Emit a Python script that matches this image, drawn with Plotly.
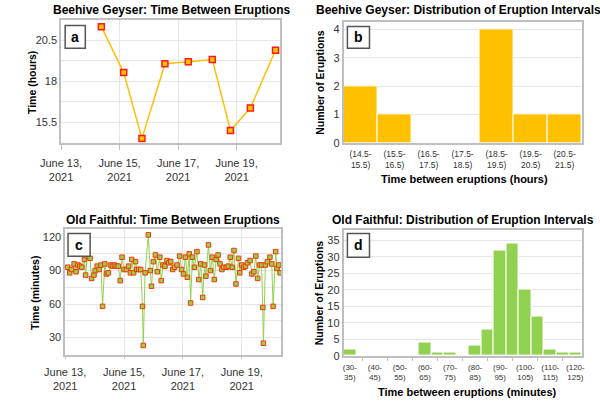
import plotly.graph_objects as go
import pandas as pd

# ---------------- data ----------------
bh_times = ["2021-06-14 09:03", "2021-06-15 03:24", "2021-06-15 18:22", "2021-06-16 13:12",
            "2021-06-17 08:24", "2021-06-18 04:05", "2021-06-18 18:58", "2021-06-19 11:17",
            "2021-06-20 07:55"]
bh_interval_hours = [21.32, 18.52, 14.5, 19.06, 19.18, 19.32, 15.0, 16.36, 19.88]

bh_bin_labels = ["(14.5-<br>15.5)", "(15.5-<br>16.5)", "(16.5-<br>17.5)", "(17.5-<br>18.5)",
                 "(18.5-<br>19.5)", "(19.5-<br>20.5)", "(20.5-<br>21.5)"]
bh_bin_counts = [2, 1, 0, 0, 4, 1, 1]

# Old Faithful: eruption time (hours after 2021-06-13 00:00) and interval (minutes)
of_hours = [2.1, 3.7, 5.2, 7.3, 8.9, 10.4, 12.0, 13.6, 15.7, 16.7,
            18.0, 20.3, 21.6, 23.5, 24.5, 26.1, 27.7, 29.2, 30.5, 32.3,
            33.7, 35.2, 37.0, 38.6, 40.2, 41.7, 43.3, 44.9, 46.4, 48.0,
            50.1, 51.7, 53.2, 54.3, 55.8, 57.4, 58.4, 60.0, 61.6, 63.1,
            63.7, 65.2, 67.8, 69.4, 70.4, 72.0, 73.6, 75.1, 77.2, 78.3,
            79.8, 81.4, 83.0, 84.5, 86.1, 87.7, 89.2, 91.3, 93.4, 95.0,
            96.5, 98.1, 99.7, 101.2, 102.3, 103.8, 105.4, 107.5, 109.0, 110.6,
            112.2, 113.7, 114.8, 116.9, 118.4, 120.0, 121.6, 123.1, 124.7, 126.3,
            127.8, 129.4, 131.5, 133.0, 134.6, 136.2, 137.7, 139.3, 141.4, 142.4,
            144.0, 145.6, 147.1, 148.7, 150.8, 152.3, 153.9, 155.5, 157.0, 158.6,
            160.2, 161.2, 161.7, 163.3, 164.9, 167.0, 168.5, 169.6, 171.7, 172.7,
            174.3, 175.3]
of_interval_min = [93, 88, 91, 96, 89, 95, 94, 93, 100, 86,
                   103, 101, 83, 86, 90, 94, 91, 95, 58, 96,
                   87, 88, 95, 94, 95, 94, 94, 81, 102, 91,
                   91, 94, 88, 100, 88, 98, 91, 91, 91, 58,
                   23, 88, 122, 90, 76, 98, 104, 89, 102, 81,
                   95, 94, 99, 97, 98, 91, 93, 95, 103, 91,
                   87, 102, 84, 105, 61, 102, 93, 107, 82, 96,
                   66, 95, 85, 113, 90, 102, 82, 100, 104, 96,
                   91, 93, 93, 94, 102, 93, 108, 78, 101, 88,
                   95, 93, 94, 97, 99, 87, 89, 103, 83, 95,
                   95, 57, 25, 95, 98, 102, 96, 58, 107, 92,
                   95, 88]

of_bin_lower = [30, 35, 40, 45, 50, 55, 60, 65, 70, 75, 80, 85, 90, 95, 100, 105, 110, 115, 120]
of_bin_counts = [2, 0, 0, 0, 0, 0, 4, 1, 1, 0, 3, 8, 32, 34, 20, 12, 2, 1, 1]
of_tick_labels = ["(30-<br>35)", "(40-<br>45)", "(50-<br>55)", "(60-<br>65)", "(70-<br>75)",
                  "(80-<br>85)", "(90-<br>95)", "(100-<br>105)", "(110-<br>115)", "(120-<br>125)"]

date_ticks = ["2021-06-13", "2021-06-15", "2021-06-17", "2021-06-19"]
date_tick_text = ["June 13,<br>2021", "June 15,<br>2021", "June 17,<br>2021", "June 19,<br>2021"]

# ---------------- style ----------------
FONT = "Arial, Liberation Sans, sans-serif"
GOLD = "#FFC000"
GREEN = "#92D050"
RED = "#FF1A1A"
GRID = "#E6E6E6"
BORDER = "#BFBFBF"
TICKC = "#333333"

of_times = pd.Timestamp("2021-06-13") + pd.to_timedelta(of_hours, unit="h")
of_centers = [b + 2.5 for b in of_bin_lower]

fig = go.Figure()

fig.add_trace(go.Scatter(
    x=pd.to_datetime(bh_times), y=bh_interval_hours, mode="lines+markers",
    line=dict(color=GOLD, width=1.5),
    marker=dict(symbol="square", size=6, color=GOLD, line=dict(color=RED, width=1.5)),
    xaxis="x", yaxis="y", showlegend=False))

fig.add_trace(go.Bar(
    x=list(range(len(bh_bin_labels))), y=bh_bin_counts, marker=dict(color=GOLD, line=dict(color="white", width=1)),
    width=1, xaxis="x2", yaxis="y2", showlegend=False))

fig.add_trace(go.Scatter(
    x=of_times, y=of_interval_min, mode="lines+markers",
    line=dict(color=GREEN, width=1),
    marker=dict(symbol="square", size=4.5, color=GREEN, line=dict(color="#FF3300", width=1)),
    xaxis="x3", yaxis="y3", showlegend=False))

fig.add_trace(go.Bar(
    x=of_centers, y=of_bin_counts, marker=dict(color=GREEN, line=dict(color="white", width=1)),
    width=5, xaxis="x4", yaxis="y4", showlegend=False))

common = dict(showline=True, mirror=True, linecolor=BORDER, linewidth=1.5,
              tickfont=dict(family=FONT, size=11, color=TICKC), zeroline=False)

dA = [41.7 / 600, 270 / 600]
dB = [336 / 600, 584 / 600]
dC = [46 / 600, 271 / 600]
yA = [1 - 145 / 408, 1 - 20.7 / 408]
yB = [1 - 145 / 408, 1 - 22.7 / 408]
yC = [1 - 360 / 408, 1 - 232.7 / 408]
yD = [1 - 361 / 408, 1 - 233 / 408]

fig.update_layout(
    width=600, height=408, margin=dict(l=0, r=0, t=0, b=0),
    paper_bgcolor="white", plot_bgcolor="white", bargap=0,
    font=dict(family=FONT, color="#000"),
    xaxis=dict(domain=dA, anchor="y", type="date",
               range=["2021-06-13 00:00", "2021-06-20 11:45"],
               tickmode="array", tickvals=date_ticks, ticktext=date_tick_text,
               showgrid=True, gridcolor=GRID, ticks="outside", ticklen=5, tickcolor=BORDER,
               ticklabelstandoff=4, **common),
    yaxis=dict(domain=yA, anchor="x", range=[14.24, 21.7],
               tickmode="array", tickvals=[15.5, 18, 20.5], ticktext=["15.5", "18", "20.5"],
               showgrid=True, gridcolor=GRID, ticks="",
               minor=dict(tickmode="linear", tick0=16.75, dtick=2.5, showgrid=True, gridcolor=GRID, ticks=""),
               **common),
    xaxis2=dict(domain=dB, anchor="y2", range=[-0.5, len(bh_bin_labels) - 0.5],
                tickmode="array", tickvals=list(range(len(bh_bin_labels))), ticktext=bh_bin_labels,
                showgrid=False, ticks="", ticklabelstandoff=2,
                **{**common, "tickfont": dict(family=FONT, size=8.5, color=TICKC)}),
    yaxis2=dict(domain=yB, anchor="x2", range=[0, 4.25], tickmode="linear", tick0=0, dtick=1,
                showgrid=True, gridcolor=GRID, ticks="", **common),
    xaxis3=dict(domain=dC, anchor="y3", type="date",
                range=["2021-06-13 00:00", "2021-06-20 08:10"],
                tickmode="array", tickvals=date_ticks, ticktext=date_tick_text,
                showgrid=True, gridcolor=GRID, ticks="outside", ticklen=3, tickcolor=BORDER,
                ticklabelstandoff=3, **common),
    yaxis3=dict(domain=yC, anchor="x3", range=[14.7, 127],
                tickmode="array", tickvals=[30, 60, 90, 120],
                showgrid=True, gridcolor=GRID, ticks="",
                minor=dict(tickmode="linear", tick0=45, dtick=30, showgrid=True, gridcolor=GRID, ticks=""),
                **common),
    xaxis4=dict(domain=dB, anchor="y4", range=[30, 125],
                tickmode="array", tickvals=of_centers[::2], ticktext=of_tick_labels,
                showgrid=False, ticks="", ticklabelstandoff=3,
                minor=dict(tickmode="linear", tick0=37.5, dtick=10, ticks="outside", ticklen=4,
                           tickcolor=BORDER, showgrid=False),
                **{**common, "tickfont": dict(family=FONT, size=8, color=TICKC)}),
    yaxis4=dict(domain=yD, anchor="x4", range=[0, 38.3], tickmode="linear", tick0=0, dtick=5,
                showgrid=True, gridcolor=GRID, ticks="", **common),
)

# titles
def ann(text, x, y, size=12, angle=0):
    fig.add_annotation(text=text, x=x / 600, y=1 - y / 408, xref="paper", yref="paper",
                       showarrow=False, textangle=angle, xanchor="center", yanchor="middle",
                       font=dict(family=FONT, size=size, color="#000"))

ann("<b>Beehive Geyser: Time Between Eruptions</b>", 157, 10)
ann("<b>Beehive Geyser: Distribution of Eruption Intervals</b>", 456, 10)
ann("<b>Old Faithful: Time Between Eruptions</b>", 158.5, 223)
ann("<b>Old Faithful: Distribution of Eruption Intervals</b>", 460, 223)
ann("<b>Time (hours)</b>", 10.7, 84, size=10.5, angle=-90)
ann("<b>Number of Eruptions</b>", 311.5, 84, size=10.5, angle=-90)
ann("<b>Time (minutes)</b>", 14, 297, size=10.5, angle=-90)
ann("<b>Number of Eruptions</b>", 310, 297, size=10.5, angle=-90)
ann("<b>Time between eruptions (hours)</b>", 462, 182, size=11)
ann("<b>Time between eruptions (minutes)</b>", 465.5, 397.5, size=11)

# panel letter boxes
for letter, x0, x1, y0, y1 in [("a", 46, 67, 26, 49), ("b", 340, 363, 27, 49),
                                ("c", 49, 72, 237, 260), ("d", 340, 363, 237, 261)]:
    fig.add_shape(type="rect", xref="paper", yref="paper", x0=x0 / 600, x1=x1 / 600,
                  y0=1 - y1 / 408, y1=1 - y0 / 408, fillcolor="white",
                  line=dict(color="#555555", width=1.5), layer="above")
    ann("<b>%s</b>" % letter, (x0 + x1) / 2, (y0 + y1) / 2, size=14)

fig.write_html("out.html")
